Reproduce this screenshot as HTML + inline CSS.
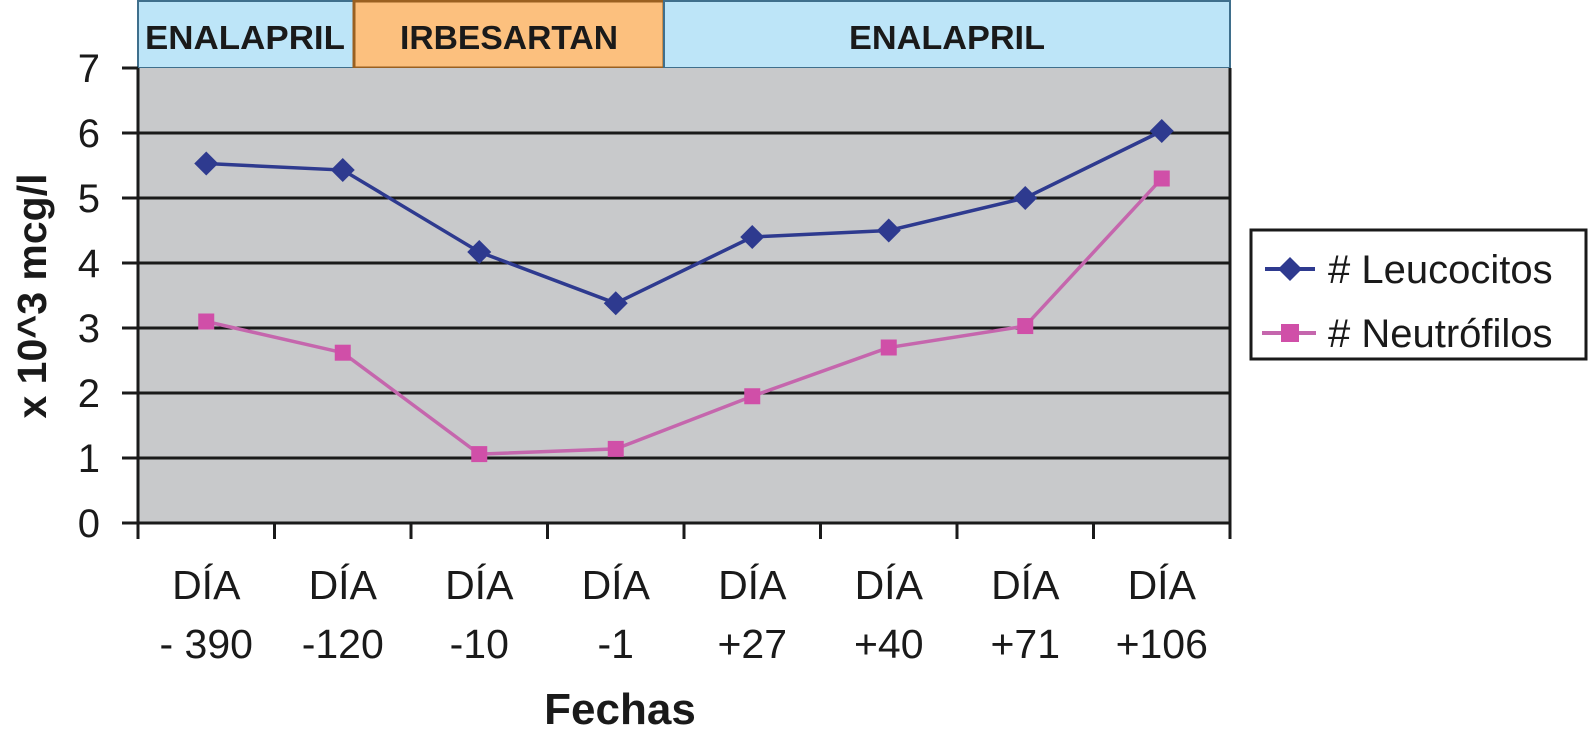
<!DOCTYPE html>
<html><head><meta charset="utf-8"><style>
html,body{margin:0;padding:0;background:#fff;}
svg{display:block;font-family:"Liberation Sans",Arial,sans-serif;}
</style></head><body>
<svg id="chart" width="1589" height="745" viewBox="0 0 1589 745">
<g id="header">
<rect x="138" y="1" width="216" height="67" fill="#bde5f8" stroke="#3f6f8c" stroke-width="2"/>
<rect x="354" y="1" width="310" height="67" fill="#fcc07e" stroke="#9a6020" stroke-width="3"/>
<rect x="664" y="1" width="566" height="67" fill="#bde5f8" stroke="#3f6f8c" stroke-width="2"/>
<text x="245" y="49" text-anchor="middle" font-size="33" font-weight="bold" fill="#1a1a1a" textLength="200" lengthAdjust="spacingAndGlyphs">ENALAPRIL</text>
<text x="509" y="49" text-anchor="middle" font-size="33" font-weight="bold" fill="#1a1a1a" textLength="218" lengthAdjust="spacingAndGlyphs">IRBESARTAN</text>
<text x="947" y="49" text-anchor="middle" font-size="33" font-weight="bold" fill="#1a1a1a" textLength="196" lengthAdjust="spacingAndGlyphs">ENALAPRIL</text>
</g>
<rect x="138" y="68" width="1092" height="455" fill="#c8c9cb"/>
<g id="grid"></g><g id="series"></g>
<text transform="translate(46,296) rotate(-90)" text-anchor="middle" font-size="41" font-weight="bold" fill="#1a1a1a">x 10^3 mcg/l</text>
<text x="620" y="724" text-anchor="middle" font-size="44" font-weight="bold" fill="#1a1a1a">Fechas</text>
<g>
<rect x="1251" y="230" width="335" height="129" fill="#fff" stroke="#1a1a1a" stroke-width="3"/>
<line x1="1265" y1="269" x2="1315" y2="269" stroke="#2e3a8f" stroke-width="4"/>
<polygon points="1290,257 1302,269 1290,281 1278,269" fill="#2e3a8f"/>
<text x="1328" y="283" font-size="40" fill="#1a1a1a"># Leucocitos</text>
<line x1="1262" y1="333" x2="1316" y2="333" stroke="#c566ad" stroke-width="4"/>
<rect x="1281" y="324" width="18" height="18" fill="#d04fa8"/>
<text x="1328" y="347" font-size="40" fill="#1a1a1a"># Neutrófilos</text>
</g>
</svg>
<script>
const categoriesTop = ["DÍA","DÍA","DÍA","DÍA","DÍA","DÍA","DÍA","DÍA"];
const categoriesBottom = ["- 390","-120","-10","-1","+27","+40","+71","+106"];
const leucocitos = [5.53,5.43,4.17,3.38,4.4,4.5,5.0,6.03];
const neutrofilos = [3.1,2.62,1.06,1.14,1.95,2.7,3.03,5.3];
const yTicks = [0,1,2,3,4,5,6,7];
const NS="http://www.w3.org/2000/svg";
const L=138,R=1230,T=68,B=523,yMax=7;
const cw=(R-L)/categoriesTop.length;
const xs=i=>L+cw*(i+0.5);
const ys=v=>B-(v/yMax)*(B-T);
function mk(tag,a,parent){const e=document.createElementNS(NS,tag);for(const k in a)e.setAttribute(k,a[k]);parent.appendChild(e);return e;}
const grid=document.getElementById('grid'),ser=document.getElementById('series');
yTicks.forEach(v=>{
 const y=ys(v);
 if(v>0&&v<yMax){const g=mk('line',{x1:L,x2:R,y1:y,y2:y,stroke:'#1a1a1a','stroke-width':3},grid);
 
 }
 mk('line',{x1:122,x2:L,y1:y,y2:y,stroke:'#1a1a1a','stroke-width':3},grid);
 const t=mk('text',{x:100,y:y+14,'text-anchor':'end','font-size':40,fill:'#1a1a1a'},grid);
 t.textContent=v;
 
 
});
mk('line',{x1:L,x2:L,y1:T,y2:B+16,stroke:'#1a1a1a','stroke-width':3},grid);
mk('line',{x1:R,x2:R,y1:T,y2:B+16,stroke:'#1a1a1a','stroke-width':3},grid);
mk('line',{x1:L-16,x2:R,y1:B,y2:B,stroke:'#1a1a1a','stroke-width':3},grid);
for(let i=1;i<categoriesTop.length;i++){const x=L+cw*i;mk('line',{x1:x,x2:x,y1:B,y2:B+16,stroke:'#1a1a1a','stroke-width':3},grid);}
categoriesTop.forEach((c,i)=>{
 const t=mk('text',{x:xs(i),y:599,'text-anchor':'middle','font-size':41,fill:'#1a1a1a'},grid);
 t.textContent=c;
 
 
 const t2=mk('text',{x:xs(i),y:658,'text-anchor':'middle','font-size':41,fill:'#1a1a1a'},grid);
 t2.textContent=categoriesBottom[i];
 
 
});
function line(vals,color,name){
 const p=mk('polyline',{points:vals.map((v,i)=>xs(i)+','+ys(v)).join(' '),fill:'none',stroke:color,'stroke-width':3.5},ser);
 
 
}
line(leucocitos,'#2e3a8f','leucocitos-line');
line(neutrofilos,'#c566ad','neutrofilos-line');
leucocitos.forEach((v,i)=>{const x=xs(i),y=ys(v);
 const m=mk('polygon',{points:`${x},${y-12} ${x+12},${y} ${x},${y+12} ${x-12},${y}`,fill:'#2e3a8f'},ser);
 
 });
neutrofilos.forEach((v,i)=>{const x=xs(i),y=ys(v);
 const m=mk('rect',{x:x-8,y:y-8,width:16,height:16,fill:'#d04fa8'},ser);
 
 });
</script>
</body></html>
